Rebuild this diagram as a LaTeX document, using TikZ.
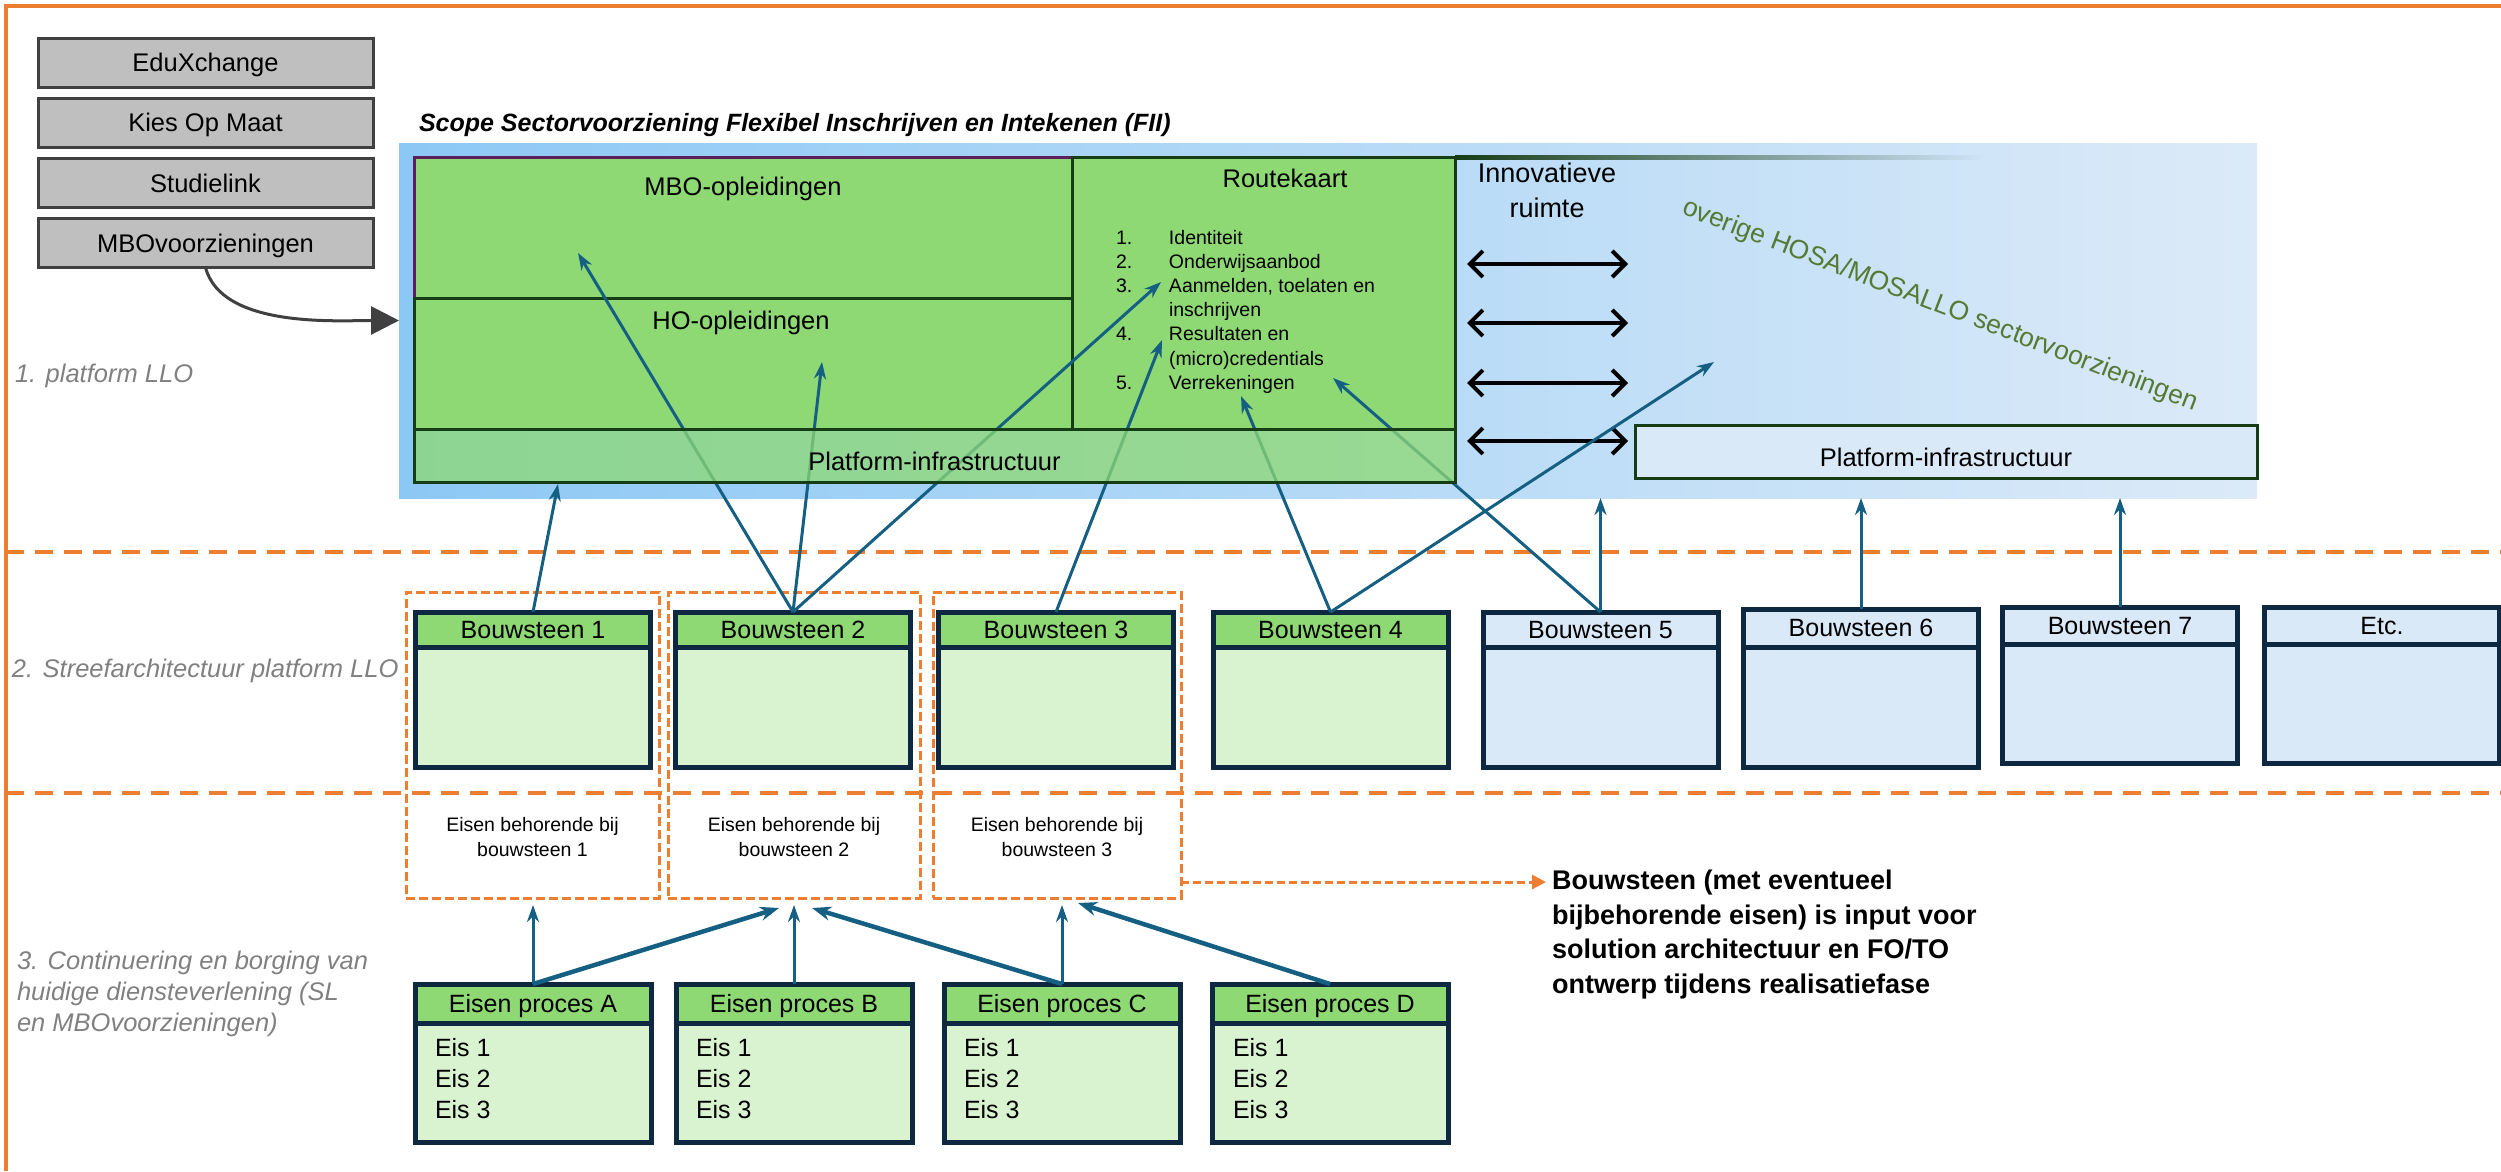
\documentclass[tikz,border=0pt]{standalone}
\usepackage{fontspec}
\setmainfont{Liberation Sans}
\usetikzlibrary{arrows.meta}
\definecolor{orng}{HTML}{ED7D31}
\definecolor{gfl}{HTML}{BFBFBF}
\definecolor{gbd}{HTML}{404040}
\definecolor{sgray}{HTML}{808080}
\definecolor{grn}{HTML}{8ED973}
\definecolor{lgrn}{HTML}{D9F2D0}
\definecolor{lblu}{HTML}{DAE9F8}
\definecolor{navy}{HTML}{0E2841}
\definecolor{dkg}{HTML}{173D17}
\definecolor{purp}{HTML}{5C1F5C}
\definecolor{abl}{HTML}{156082}
\definecolor{olv}{HTML}{557A33}
\definecolor{bgL}{HTML}{8CC8F5}
\definecolor{bgR}{HTML}{DCEAF8}
\definecolor{bgM}{HTML}{CFE4F8}
\newcommand\fsz[2]{\fontsize{#1}{#2}\selectfont}
\begin{document}
\begin{tikzpicture}[x=1pt,y=-1pt,
 every node/.style={inner sep=0pt, outer sep=0pt},
 graybox/.style={draw=gbd, fill=gfl, line width=3pt, minimum width=335pt, minimum height=49pt, font=\fsz{25.5}{30}, text height=23pt, text depth=4.7pt},
 sect/.style={text=sgray, font=\itshape\fsz{25.5}{31}, anchor=base west},
 grnbox/.style={draw=dkg, fill=grn, line width=3pt},
 lbl/.style={font=\fsz{25.5}{30}, anchor=base},
 plat/.style={draw=dkg, line width=3pt, font=\fsz{25.5}{30}, text height=32pt, text depth=2pt},
 hdr/.style={draw=navy, line width=5pt, minimum width=235pt, minimum height=#1, font=\fsz{25}{30}, text height=22.4pt, text depth=4.5pt, anchor=north},
 hdr/.default=35pt,
 bdy/.style={draw=navy, line width=5pt, minimum width=235pt, minimum height=#1, anchor=north},
 bdy/.default=120pt,
 grp/.style={draw=orng, line width=3pt, dash pattern=on 9pt off 4pt, minimum height=306pt},
 grpt/.style={align=center, font=\fsz{19.5}{25}},
 eis/.style={anchor=north west, align=left, font=\fsz{25}{31}},
 sepl/.style={draw=orng, line width=4pt, dash pattern=on 18pt off 11pt},
 barr/.style={draw=abl, line width=3pt, -{Stealth[length=17pt,width=12pt]}},
 barrd/.style={draw=abl, line width=4.5pt, -{Stealth[length=19pt,width=14pt]}},
 dbl/.style={draw=black, line width=4pt, {Straight Barb[length=13pt,width=26pt]}-{Straight Barb[length=13pt,width=26pt]}}
]
\useasboundingbox (0,0) rectangle (2501,1171);

% frame and section separators
\draw[orng, line width=4pt] (2501,6) -- (6,6) -- (6,1171);
\draw[sepl] (6,552) -- (2501,552);
\draw[sepl] (6,793) -- (2501,793);

% gray boxes
\node[graybox] (edux) at (205.5,62.5) {EduXchange};
\node[graybox] (kies) at (205.5,122.5) {Kies Op Maat};
\node[graybox] (stud) at (205.5,183) {Studielink};
\node[graybox] (mbov) at (205.5,243) {MBOvoorzieningen};

% section labels
\node[sect] (s1) at (15,382) {1. platform LLO};
\node[sect] (s2) at (12,677) {2. Streefarchitectuur platform LLO};
\node[sect, anchor=north west, align=left] (s3) at (17,951) {3. Continuering en borging van\\huidige diensteverlening (SL\\en MBOvoorzieningen)};

% title
\node[anchor=base west, font=\bfseries\itshape\fsz{25}{30}] (title) at (419,131) {Scope Sectorvoorziening Flexibel Inschrijven en Intekenen (FII)};

% blue background
\node[minimum width=1858pt, minimum height=355pt, left color=bgL, right color=bgR] (bluebg) at (1328,320.5) {};

% curved arrow
\draw[gbd, line width=3pt, -{Triangle[length=28pt,width=28pt]}] (mbov.south) to[out=-75,in=180,looseness=0.8] (bluebg.west);

% green upper boxes
\node[draw=purp, fill=grn, line width=3pt, minimum width=658pt, minimum height=141pt] (mbo) at (743,227.5) {};
\node[grnbox, minimum width=658pt, minimum height=131pt] (ho) at (743,363.5) {};
\node[grnbox, minimum width=383pt, minimum height=272pt] (route) at (1263.5,293) {};
\node[lbl] (mbot) at (743,195) {MBO-opleidingen};
\node[lbl] (hot) at (741,329) {HO-opleidingen};
\node[lbl] (routet) at (1285,187) {Routekaart};
\node[anchor=north west, align=left, font=\fsz{19.5}{24.2}] (rlist) at (1116,230)
 {\makebox[53pt][l]{1.}Identiteit\\
  \makebox[53pt][l]{2.}Onderwijsaanbod\\
  \makebox[53pt][l]{3.}Aanmelden, toelaten en\\
  \hspace*{53pt}inschrijven\\
  \makebox[53pt][l]{4.}Resultaten en\\
  \hspace*{53pt}(micro)credentials\\
  \makebox[53pt][l]{5.}Verrekeningen};

% fading top line
\shade[left color=dkg, right color=bgM] (1455,155.5) rectangle (1985,159.5);

% innovation space
\node[anchor=north, align=center, font=\fsz{27}{35}] (innov) at (1547,163) {Innovatieve\\ruimte};
\node[rotate=-21, text=olv, font=\fsz{26.5}{30}] (overige) at (1940,306) {overige HOSA/MOSALLO sectorvoorzieningen};
\coordinate (d1l) at (1467,264); \coordinate (d1r) at (1628,264);
\coordinate (d2l) at (1467,323); \coordinate (d2r) at (1628,323);
\coordinate (d3l) at (1467,383); \coordinate (d3r) at (1628,383);
\coordinate (d4l) at (1467,441); \coordinate (d4r) at (1628,441);
\draw[dbl] (d1l) -- (d1r);
\draw[dbl] (d2l) -- (d2r);
\draw[dbl] (d3l) -- (d3r);
\draw[dbl] (d4l) -- (d4r);

\node[plat, fill=lblu, minimum width=622pt, minimum height=53pt] (plat2) at (1946,451.5) {Platform-infrastructuur};

% groups
\node[grp, minimum width=253pt] (g1) at (532.5,745) {};
\node[grp, minimum width=252pt] (g2) at (794,745) {};
\node[grp, minimum width=248pt] (g3) at (1057,745) {};
\node[grpt] (g1t) at (532.5,837) {Eisen behorende bij\\bouwsteen 1};
\node[grpt] (g2t) at (794,837) {Eisen behorende bij\\bouwsteen 2};
\node[grpt] (g3t) at (1057,837) {Eisen behorende bij\\bouwsteen 3};

% bouwstenen
\node[hdr, fill=grn] (bs1) at (533,612) {Bouwsteen 1};
\node[bdy, fill=lgrn] (bs1b) at (bs1.south) {};
\node[hdr, fill=grn] (bs2) at (793,612) {Bouwsteen 2};
\node[bdy, fill=lgrn] (bs2b) at (bs2.south) {};
\node[hdr, fill=grn] (bs3) at (1056,612) {Bouwsteen 3};
\node[bdy, fill=lgrn] (bs3b) at (bs3.south) {};
\node[hdr, fill=grn] (bs4) at (1330.5,612) {Bouwsteen 4};
\node[bdy, fill=lgrn] (bs4b) at (bs4.south) {};
\node[hdr, fill=lblu] (bs5) at (1600.5,612) {Bouwsteen 5};
\node[bdy, fill=lblu] (bs5b) at (bs5.south) {};
\node[hdr=38pt, fill=lblu] (bs6) at (1861,609) {Bouwsteen 6};
\node[bdy, fill=lblu] (bs6b) at (bs6.south) {};
\node[hdr=37pt, fill=lblu] (bs7) at (2120,607) {Bouwsteen 7};
\node[bdy=119pt, fill=lblu] (bs7b) at (bs7.south) {};
\node[hdr=37pt, fill=lblu] (etc) at (2382,607) {Etc.};
\node[bdy=119pt, fill=lblu] (etcb) at (etc.south) {};

% eisen processen
\node[hdr=39pt, fill=grn, minimum width=236pt] (ea) at (533,984) {Eisen proces A};
\node[bdy=119pt, fill=lgrn, minimum width=236pt] (eab) at (ea.south) {};
\node[hdr=39pt, fill=grn, minimum width=236pt] (eb) at (794,984) {Eisen proces B};
\node[bdy=119pt, fill=lgrn, minimum width=236pt] (ebb) at (eb.south) {};
\node[hdr=39pt, fill=grn, minimum width=236pt] (ec) at (1062,984) {Eisen proces C};
\node[bdy=119pt, fill=lgrn, minimum width=236pt] (ecb) at (ec.south) {};
\node[hdr=39pt, fill=grn, minimum width=236pt] (ed) at (1330,984) {Eisen proces D};
\node[bdy=119pt, fill=lgrn, minimum width=236pt] (edb) at (ed.south) {};
\node[eis] (eat) at (435,1038) {Eis 1\\Eis 2\\Eis 3};
\node[eis] (ebt) at (696,1038) {Eis 1\\Eis 2\\Eis 3};
\node[eis] (ect) at (964,1038) {Eis 1\\Eis 2\\Eis 3};
\node[eis] (edt) at (1233,1038) {Eis 1\\Eis 2\\Eis 3};

% upper arrows
\coordinate (tmbo) at (578,253);
\coordinate (tho) at (822,362);
\coordinate (taan) at (1161,282);
\coordinate (tres) at (1162,340);
\coordinate (tvera) at (1241,396);
\coordinate (tverb) at (1333,378);
\coordinate (tov) at (1714,362);
\coordinate (tpl) at (558,484);
\draw[barr] (bs1.north) -- (tpl);
\draw[barr] (bs2.north) -- (tmbo);
\draw[barr] (bs2.north) -- (tho);
\draw[barr] (bs2.north) -- (taan);
\draw[barr] (bs3.north) -- (tres);
\draw[barr] (bs4.north) -- (tvera);
\draw[barr] (bs4.north) -- (tov);
\draw[barr] (bs5.north) -- (tverb);
\draw[barr] (bs5.north) -- (bs5.north |- bluebg.south);
\draw[barr] (bs6.north) -- (bs6.north |- bluebg.south);
\draw[barr] (bs7.north) -- (bs7.north |- bluebg.south);

% left platform (semi-transparent, over arrows)
\node[plat, fill=grn, fill opacity=0.75, text opacity=1, minimum width=1041pt, minimum height=53pt] (plat1) at (934.5,455.5) {Platform-infrastructuur};

% lower arrows
\coordinate (ua) at (533,905);
\coordinate (ud1) at (779,908);
\coordinate (ub) at (794,905);
\coordinate (ud2) at (812,908);
\coordinate (uc) at (1062,905);
\coordinate (ud3) at (1078,903);
\draw[barr] (ea.north) -- (ua);
\draw[barrd] (ea.north) -- (ud1);
\draw[barr] (eb.north) -- (ub);
\draw[barrd] (ec.north) -- (ud2);
\draw[barr] (ec.north) -- (uc);
\draw[barrd] (ed.north) -- (ud3);

% note
\coordinate (dc0) at (1181,882);
\coordinate (dc1) at (1546,882);
\draw[orng, line width=3pt, dash pattern=on 8pt off 4pt, -{Triangle[length=14pt,width=14pt]}] (dc0) -- (dc1);
\node[anchor=north west, align=left, font=\bfseries\fsz{27}{34.7}] (note) at (1552,870)
 {Bouwsteen (met eventueel\\bijbehorende eisen) is input voor\\solution architectuur en FO/TO\\ontwerp tijdens realisatiefase};
\end{tikzpicture}
\end{document}
